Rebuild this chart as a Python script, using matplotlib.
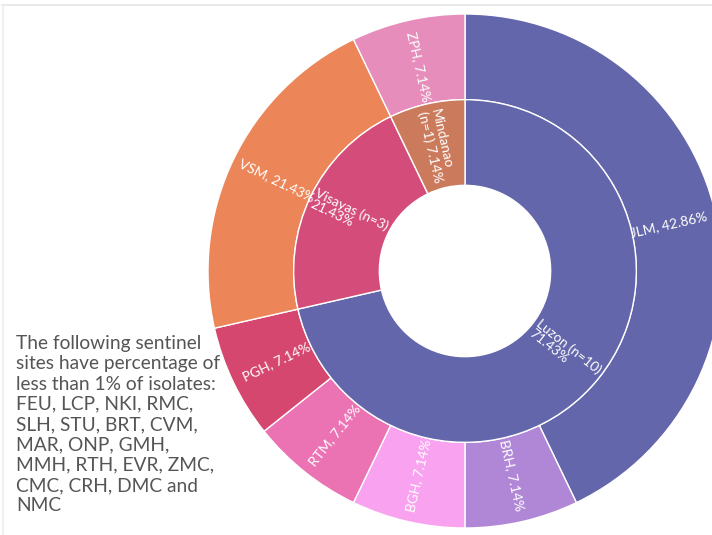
import matplotlib
matplotlib.use("Agg")
import matplotlib.pyplot as plt
from matplotlib.lines import Line2D
import numpy as np

# Regions (inner ring)
regions = ["Luzon", "Visayas", "Mindanao"]
region_n = [10, 3, 1]
region_pct = [71.43, 21.43, 7.14]
region_labels = ["Luzon (n=10)\n71.43%", "Visayas (n=3)\n21.43%", "Mindanao\n(n=1) 7.14%"]
region_colors = ["#6366AA", "#D44C7A", "#CB7A5C"]

# Sentinel sites (outer ring), ordered by region
sites = ["JLM", "BRH", "BGH", "RTM", "PGH", "VSM", "ZPH"]
site_pct = [42.86, 7.14, 7.14, 7.14, 7.14, 21.43, 7.14]
site_colors = ["#6366AA", "#B087D6", "#F9A3F0", "#EB73B3", "#D5476E", "#EC8558", "#E68DBB"]

note = ("The following sentinel\nsites have percentage of\nless than 1% of isolates:\n"
        "FEU, LCP, NKI, RMC,\nSLH, STU, BRT, CVM,\nMAR, ONP, GMH,\n"
        "MMH, RTH, EVR, ZMC,\nCMC, CRH, DMC and\nNMC")

plt.rcParams["font.family"] = ["Lato", "DejaVu Sans"]

W, H = 712, 535
fig = plt.figure(figsize=(W / 100, H / 100), dpi=100)
fig.patch.set_facecolor("white")

# pie axes: centre (465, 271) px, outer radius 257 px
cx, cy, R = 465, 271, 257
ax = fig.add_axes([(cx - R) / W, (H - cy - R) / H, 2 * R / W, 2 * R / H])

ring = 1 / 3
edge = dict(edgecolor="#FFFFFF", linewidth=1.0)
outer, _ = ax.pie(site_pct, radius=1.0, colors=site_colors, startangle=90,
                  counterclock=False, wedgeprops=dict(width=ring, **edge))
inner, _ = ax.pie(region_pct, radius=2 / 3, colors=region_colors, startangle=90,
                  counterclock=False, wedgeprops=dict(width=ring, **edge))
ax.set_xlim(-1, 1)
ax.set_ylim(-1, 1)
ax.set_aspect("equal")
ax.axis("off")


def radial_label(wedge, text, r):
    mid = (wedge.theta1 + wedge.theta2) / 2.0
    rad = np.deg2rad(mid)
    x, y = r * np.cos(rad), r * np.sin(rad)
    rot = mid if np.cos(rad) >= 0 else mid + 180
    rot = (rot + 180) % 360 - 180
    ax.text(x, y, text, rotation=rot, rotation_mode="anchor", ha="center",
            va="center", multialignment="left", color="white", fontsize=9.9,
            linespacing=1.0)


for w, s, p in zip(outer, sites, site_pct):
    radial_label(w, f"{s}, {p:.2f}%", 0.815)

for w, lab in zip(inner, region_labels):
    radial_label(w, lab, 0.5)

fig.text(16 / W, 1 - 335 / H, note, ha="left", va="top", fontsize=13.8,
         color="#555555", linespacing=1.235)

# light frame lines
fig.add_artist(Line2D([2 / W, 1], [1 - 5 / H, 1 - 5 / H], color="#E6E6E6", lw=1.2))
fig.add_artist(Line2D([3 / W, 3 / W], [0, 1 - 5 / H], color="#EDEDED", lw=1.2))

fig.savefig("out.png", dpi=100, facecolor="white")
